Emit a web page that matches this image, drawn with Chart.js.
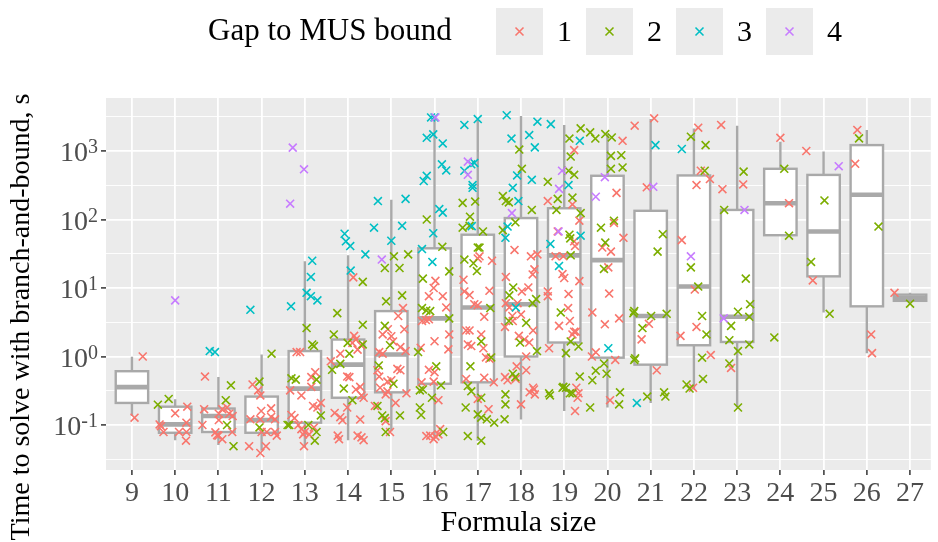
<!DOCTYPE html>
<html>
<head>
<meta charset="utf-8">
<script src="https://cdn.jsdelivr.net/npm/chart.js@4.4.1/dist/chart.umd.min.js"></script>
<style>
  html, body { margin: 0; padding: 0; background: #ffffff; }
  #chart { display: block; }
</style>
</head>
<body>
<canvas id="chart" width="938" height="542"></canvas>
<script>
// Formula sizes (x categories) and box statistics, seconds
const sizes       = [9, 10, 11, 12, 13, 14, 15, 16, 17, 18, 19, 20, 21, 22, 23, 24, 25, 26, 27];
const whiskerLow  = [0.135, 0.06, 0.051, 0.042, 0.047, 0.06, 0.081, 0.066, 0.059, 0.12, 0.16, 0.18, 0.21, 0.33, 0.18, 59, 4.4, 1.12, 6.4];
const quart1      = [0.21, 0.077, 0.079, 0.077, 0.108, 0.25, 0.3, 0.4, 0.42, 1.0, 1.6, 0.96, 0.76, 1.46, 1.63, 59, 14.8, 5.4, 6.5];
const medians     = [0.357, 0.102, 0.135, 0.118, 0.34, 0.76, 1.07, 3.6, 5.2, 5.8, 30, 25.5, 3.9, 10.5, 3.8, 173, 67, 230, 7.2];
const quart3      = [0.61, 0.185, 0.174, 0.26, 1.2, 1.77, 4.6, 38, 60, 105, 146, 435, 134, 440, 138, 550, 448, 1220, 8.0];
const whiskerHigh = [0.99, 0.237, 0.5, 1.07, 24.6, 30, 195, 3160, 2830, 3250, 2400, 1810, 2930, 2140, 2340, 1370, 980, 2030, 8.5];

// jittered runs: [formula size + jitter, seconds], one list per gap
const gap1 = [
  [9.25,1.0],[9.06,0.128],
  [10.0,0.148],[10.28,0.185],[9.64,0.102],[9.67,0.096],[9.73,0.079],[10.09,0.079],[10.26,0.108],[10.26,0.079],[10.25,0.059],
  [10.69,0.51],[10.67,0.17],[11.09,0.17],[11.2,0.18],[11.01,0.146],[11.25,0.146],[11.33,0.135],[10.63,0.1],[11.01,0.118],[10.93,0.078],[10.97,0.071],[11.09,0.062],[11.32,0.079],[11.0,0.07],
  [11.79,0.39],[11.92,0.32],[11.97,0.27],[11.99,0.16],[12.22,0.175],[11.74,0.121],[11.97,0.121],[12.22,0.131],[12.31,0.121],[12.0,0.079],[12.12,0.079],[12.31,0.079],[12.35,0.07],[11.71,0.049],[11.97,0.039],[12.1,0.049],
  [12.81,1.16],[12.89,1.16],[13.15,0.5],[13.24,0.59],[12.66,0.32],[12.92,0.27],[13.15,0.36],[13.37,0.21],[13.19,0.19],[13.29,0.18],[12.69,0.14],[12.76,0.126],[12.85,0.1],[12.92,0.087],[13.0,0.079],[12.96,0.073],[13.21,0.092],[13.1,0.073],[12.98,0.049],
  [14.12,14.3],[14.14,2.0],[14.18,1.77],[14.1,1.58],[13.82,1.1],[14.22,1.26],[14.3,1.46],[13.6,0.85],[13.98,0.51],[14.03,0.5],[14.18,0.33],[14.28,0.36],[14.31,0.27],[14.36,0.25],[13.69,0.15],[13.82,0.13],[13.87,0.117],[13.98,0.18],[14.28,0.12],[13.76,0.07],[13.79,0.062],[14.22,0.07],[14.31,0.066],[14.36,0.06],
  [15.27,5.1],[15.16,3.9],[15.3,2.5],[14.8,2.1],[14.92,2.5],[15.0,1.98],[15.04,1.66],[15.21,1.37],[15.33,1.2],[14.72,1.16],[14.8,1.1],[14.68,0.63],[14.72,0.51],[15.14,0.66],[15.21,0.63],[15.0,0.45],[14.91,0.43],[14.74,0.35],[14.91,0.31],[14.87,0.28],[15.35,0.29],[15.1,0.21],[14.62,0.19],[14.87,0.114],[14.97,0.079],
  [16.02,12.7],[15.98,10],[15.87,7.6],[16.19,7.6],[16.27,5.2],[15.71,3.3],[15.8,3.4],[15.87,3.5],[16.34,2.1],[16.0,1.67],[15.68,1.34],[16.32,1.27],[15.87,0.64],[16.0,0.59],[15.7,0.42],[15.98,0.43],[16.09,0.23],[15.81,0.069],[15.9,0.07],[16.02,0.068],[16.09,0.073],[16.13,0.087],[15.98,0.062],
  [17.04,29],[17.0,27],[17.33,25],[16.67,13.2],[16.81,7.9],[16.69,8.9],[17.27,9.1],[16.92,5.8],[17.0,5.6],[17.15,3.8],[16.73,2.4],[16.81,2.4],[17.08,2.1],[16.77,1.5],[16.85,1.42],[17.13,1.32],[17.19,0.97],[17.27,0.93],[16.73,0.47],[17.15,0.49],[17.37,0.42],[17.0,0.24],[17.25,0.17],
  [17.85,36],[18.23,29],[18.38,31],[17.65,14.5],[18.27,15.8],[18.31,18.7],[18.17,10.2],[18.02,8.9],[17.65,6.0],[17.73,5.2],[17.92,6.0],[17.8,3.9],[17.81,3.3],[18.0,4.1],[17.63,2.7],[18.28,2.4],[17.95,2.0],[18.08,1.77],[18.19,1.6],[18.12,1.0],[17.9,0.72],[18.12,0.63],[17.63,0.5],[17.69,0.45],[17.88,0.47],[18.0,0.2],[18.28,0.35],[18.2,0.3],[18.3,0.33],[18.32,0.28],
  [19.23,1030],[18.62,186],[19.19,166],[19.35,96],[18.85,67],[19.23,48],[19.25,41],[18.8,29],[18.98,29],[18.96,16],[19.0,14],[19.35,12.6],[18.62,8.9],[18.62,7.6],[19.1,8.2],[19.09,5.1],[19.13,3.3],[18.88,2.8],[19.23,2.3],[19.19,2.1],[19.27,2.3],[18.65,1.32],[19.28,0.35],[19.33,0.29],[19.31,0.25],[19.25,0.16],
  [20.35,1410],[20.63,2340],[20.21,245],[20.15,89],[20.37,54],[19.88,39],[20.08,34],[20.02,20],[20.04,8.3],[19.65,4.4],[20.27,3.6],[19.94,2.95],[19.73,1.15],[19.64,1.0],[20.18,0.89],[20.06,0.23],
  [21.08,3000],[20.91,295],[20.96,3.0],[20.79,1.78],[21.14,0.63],
  [22.1,2190],[22.63,2400],[22.16,515],[22.37,390],[22.06,318],[22.66,277],[21.72,50],[22.02,9.5],[22.06,2.7],[21.69,2.0],[22.39,1.05],[21.98,0.35],
  [23.14,325],[22.86,0.68],
  [24.0,1560],[24.2,173],
  [24.6,1000],[24.75,12.9],
  [25.78,2030],[25.73,650],[26.1,2.1],[26.12,1.12],
  [26.64,8.5]
];
const gap2 = [
  [9.6,0.198],[9.85,0.24],
  [11.29,0.38],[11.17,0.23],[11.2,0.1],[11.35,0.049],
  [12.23,1.1],[11.95,0.43],[11.95,0.092],[12.6,0.1],
  [13.04,2.6],[13.17,1.5],[13.21,1.42],[12.69,0.48],[12.79,0.46],[13.27,0.46],[13.37,0.138],[12.64,0.1],[13.27,0.079],[13.23,0.059],[13.08,0.1],
  [14.34,12.3],[13.75,4.3],[13.67,2.1],[14.34,2.9],[13.99,1.58],[14.03,1.1],[14.34,1.5],[13.63,0.64],[13.82,0.78],[13.9,0.34],[14.1,0.23],
  [15.06,29],[15.39,31],[14.85,19.6],[15.19,19.6],[15.25,7.8],[14.88,6.4],[14.85,2.8],[14.97,1.46],[14.71,0.74],[15.05,0.4],[14.68,0.19],[14.79,0.138],[14.85,0.126],[15.2,0.138],[14.87,0.079],
  [15.82,100],[16.18,40],[16.34,17.5],[15.73,13.7],[15.71,5.1],[15.81,4.7],[15.9,4.6],[16.34,3.6],[15.62,1.16],[16.04,0.72],[16.15,0.38],[15.66,0.32],[15.73,0.33],[15.94,0.25],[15.66,0.18],[15.69,0.14],[16.2,0.079],
  [16.65,175],[16.94,183],[16.82,110],[16.65,76],[16.81,81],[17.12,67],[17.0,39],[17.04,39],[16.69,26],[16.9,23],[16.98,17.7],[17.29,5.1],[17.08,1.66],[17.31,0.97],[16.83,0.72],[16.77,0.37],[16.85,0.31],[17.08,0.25],[16.72,0.18],[17.0,0.143],[17.08,0.128],[17.21,0.121],[17.38,0.108],[16.77,0.069],[17.08,0.059],
  [17.96,1050],[18.02,550],[18.62,355],[17.58,220],[17.65,186],[17.72,178],[17.87,91],[18.25,138],[17.58,70],[17.82,10.2],[17.73,7.8],[18.35,6.9],[18.27,6.0],[17.72,3.3],[18.12,3.1],[17.98,1.6],[18.37,1.2],[17.81,0.56],[17.87,0.5],[17.64,0.28],[17.64,0.2],[17.62,0.121],
  [19.38,2140],[19.12,1520],[19.15,830],[19.6,1870],[19.72,1520],[19.1,515],[19.23,450],[18.85,200],[19.19,209],[18.82,138],[19.38,124],[19.12,60],[19.14,53],[19.15,30],[18.92,4.4],[19.15,1.66],[19.33,1.4],[19.04,1.12],[18.98,0.36],[19.04,0.35],[19.13,0.29],[19.19,0.29],[19.36,0.51],[18.96,0.35],[18.65,0.29],[18.67,0.27],[19.6,0.18],
  [19.95,1770],[20.1,1580],[20.32,870],[20.35,575],[20.08,850],[20.08,550],[20.15,96],[19.85,76],[19.95,46],[19.92,19],[20.62,4.6],[20.62,0.89],[19.92,0.79],[19.98,0.56],[19.73,0.62],[19.65,0.45],[20.29,0.3],[20.27,0.2],
  [21.28,61],[21.16,34],[20.6,4.3],[21.01,3.9],[21.37,4.2],[20.81,2.6],[20.64,0.94],[20.92,0.26],[21.31,0.3],[21.34,0.26],
  [21.93,1620],[22.27,1220],[22.25,515],[21.93,20],[22.1,10.5],[22.19,3.9],[22.29,2.1],[22.19,0.96],[22.21,0.47],[21.83,0.39],[21.9,0.34],
  [23.15,500],[22.7,138],[23.2,13.7],[23.3,5.8],[23.02,4.5],[23.28,3.8],[22.86,2.8],[22.82,1.73],[23.28,1.5],[23.02,1.2],[22.82,0.79],[23.02,0.18],[23.86,1.9],
  [24.09,550],[24.2,58],
  [25.02,190],[24.71,24],[25.14,4.2],
  [25.82,1530],[26.27,79],
  [27.0,5.9]
];
const gap3 = [
  [10.8,1.2],[10.92,1.16],
  [11.74,4.8],
  [13.17,25],[13.14,14.5],[13.04,8.5],[13.14,7.6],[13.29,6.6],[12.68,5.4],
  [13.92,62],[13.95,48],[14.05,41],[14.4,31],[14.06,18],
  [14.69,186],[15.33,200],[14.6,76],[15.25,81],[15.0,49],
  [15.92,3090],[16.0,3090],[15.97,1750],[15.82,1560],[16.19,1290],[16.17,640],[16.27,520],[15.82,435],[15.75,365],[16.11,142],[16.19,126],[15.97,63],[15.71,37],[15.95,24],
  [16.69,2400],[17.0,2930],[16.85,640],[16.92,670],[16.69,515],[16.88,318],[16.88,290],[16.86,80],
  [17.67,3330],[18.38,2680],[18.69,2470],[17.78,1520],[18.19,1710],[18.32,1130],[17.91,440],[18.25,380],[17.81,290],[17.94,186],[17.69,79],[17.64,54],[17.88,5.2],
  [19.36,1410],[19.1,318],[19.38,58],[18.68,44],[18.88,21],
  [20.02,1.32],
  [21.11,1220],[20.68,0.21],
  [21.72,1070]
];
const gap4 = [
  [10.0,6.6],
  [12.72,1120],[12.98,540],[12.66,170],
  [14.78,26],
  [16.02,3090],
  [16.77,700],[16.77,450],
  [17.79,124],
  [18.95,515],[18.88,280],[18.87,67],
  [19.94,415],[19.73,215],
  [21.06,300],
  [21.93,29],
  [23.17,138],[22.69,3.6],
  [25.35,600]
];

const gapLabels = ['1', '2', '3', '4'];
const gapColors = ['#F8766D', '#7CAE00', '#00BFC4', '#C77CFF'];

// log axis: major breaks with exponents, minor breaks halfway (in log space)
const yMajor = [0.1, 1, 10, 100, 1000];
const yExponents = ['-1', '0', '1', '2', '3'];
const yMinor = [0.0316228, 0.316228, 3.16228, 31.6228, 316.228, 3162.28];

const SERIF = "'Liberation Serif', 'DejaVu Serif', serif";
const BOX_GREY = '#A9A9A9';

function isMajor(v) {
    return yMajor.some(m => Math.abs(Math.log10(v) - Math.log10(m)) < 1e-6);
}

const panelPlugin = {
    id: 'panel',
    beforeDraw(chart) {
        const { ctx, chartArea: a } = chart;
        ctx.save();
        ctx.fillStyle = '#ffffff';
        ctx.fillRect(0, 0, chart.width, chart.height);
        ctx.fillStyle = '#EBEBEB';
        ctx.fillRect(a.left, a.top, a.right - a.left, a.bottom - a.top);
        ctx.restore();
    }
};

const boxPlugin = {
    id: 'boxes',
    beforeDatasetsDraw(chart) {
        const { ctx, chartArea: a, scales: { x, y } } = chart;
        ctx.save();
        ctx.beginPath();
        ctx.rect(a.left, a.top, a.right - a.left, a.bottom - a.top);
        ctx.clip();
        ctx.strokeStyle = BOX_GREY;
        sizes.forEach((s, i) => {
            const xc = x.getPixelForValue(s);
            const x0 = x.getPixelForValue(s - 0.375);
            const x1 = x.getPixelForValue(s + 0.375);
            const yLo = y.getPixelForValue(whiskerLow[i]);
            const yQ1 = y.getPixelForValue(quart1[i]);
            const yMed = y.getPixelForValue(medians[i]);
            const yQ3 = y.getPixelForValue(quart3[i]);
            const yHi = y.getPixelForValue(whiskerHigh[i]);

            ctx.lineWidth = 2.4;
            ctx.beginPath();
            ctx.moveTo(xc, yHi);
            ctx.lineTo(xc, yQ3);
            ctx.moveTo(xc, yQ1);
            ctx.lineTo(xc, yLo);
            ctx.stroke();

            ctx.fillStyle = '#ffffff';
            ctx.fillRect(x0, yQ3, x1 - x0, yQ1 - yQ3);
            ctx.strokeRect(x0, yQ3, x1 - x0, yQ1 - yQ3);

            ctx.lineWidth = 4.6;
            ctx.beginPath();
            ctx.moveTo(x0, yMed);
            ctx.lineTo(x1, yMed);
            ctx.stroke();
        });
        ctx.restore();
    }
};

const textPlugin = {
    id: 'texts',
    afterDraw(chart) {
        const { ctx, chartArea: a, scales: { y } } = chart;
        ctx.save();

        // y tick labels as 10 with superscript exponent
        ctx.fillStyle = '#4D4D4D';
        ctx.textBaseline = 'alphabetic';
        yMajor.forEach((v, i) => {
            const py = y.getPixelForValue(v);
            ctx.font = '20px ' + SERIF;
            const supW = ctx.measureText(yExponents[i]).width;
            ctx.font = '28px ' + SERIF;
            const baseW = ctx.measureText('10').width;
            const right = a.left - 8;
            ctx.textAlign = 'left';
            ctx.fillText('10', right - supW - baseW, py + 10);
            ctx.font = '20px ' + SERIF;
            ctx.fillText(yExponents[i], right - supW, py + 2);
        });

        // axis titles
        ctx.fillStyle = '#000000';
        ctx.textAlign = 'center';
        ctx.textBaseline = 'middle';
        ctx.font = '30px ' + SERIF;
        ctx.fillText('Formula size', (a.left + a.right) / 2, 523);

        ctx.save();
        ctx.translate(22, 317);
        ctx.rotate(-Math.PI / 2);
        ctx.font = '28px ' + SERIF;
        ctx.fillText('Time to solve with branch-and-bound, s', 0, 0);
        ctx.restore();

        // legend
        ctx.textAlign = 'left';
        ctx.font = '31px ' + SERIF;
        ctx.fillText('Gap to MUS bound', 208, 32);
        const keyX = [496, 586, 676, 766];
        gapLabels.forEach((lab, i) => {
            const kx = keyX[i];
            ctx.fillStyle = '#EBEBEB';
            ctx.fillRect(kx, 8, 47, 47);
            const cx = kx + 23.5, cy = 31.5, h = 4;
            ctx.strokeStyle = gapColors[i];
            ctx.lineWidth = 1.6;
            ctx.beginPath();
            ctx.moveTo(cx - h, cy - h);
            ctx.lineTo(cx + h, cy + h);
            ctx.moveTo(cx - h, cy + h);
            ctx.lineTo(cx + h, cy - h);
            ctx.stroke();
            ctx.fillStyle = '#000000';
            ctx.font = '30px ' + SERIF;
            ctx.fillText(lab, kx + 61, 33);
        });
        ctx.restore();
    }
};

const gapData = [gap1, gap2, gap3, gap4];

new Chart(document.getElementById('chart'), {
    type: 'scatter',
    data: {
        datasets: gapData.map((pts, i) => ({
            label: gapLabels[i],
            data: pts.map(p => ({ x: p[0], y: p[1] })),
            pointStyle: 'crossRot',
            pointRadius: 5.6,
            pointHoverRadius: 5.6,
            borderWidth: 1.6,
            borderColor: gapColors[i],
            backgroundColor: gapColors[i],
            order: 4 - i
        }))
    },
    options: {
        responsive: false,
        animation: false,
        devicePixelRatio: 1,
        events: [],
        layout: { padding: { top: 98, left: 0, right: 0, bottom: 0 } },
        plugins: {
            legend: { display: false },
            tooltip: { enabled: false }
        },
        scales: {
            x: {
                type: 'linear',
                min: 8.4,
                max: 27.48,
                afterBuildTicks: scale => { scale.ticks = sizes.map(v => ({ value: v })); },
                afterFit: scale => { scale.height = 72; },
                ticks: {
                    autoSkip: false,
                    maxRotation: 0,
                    padding: 2,
                    color: '#4D4D4D',
                    font: { family: SERIF, size: 28 },
                    callback: v => String(v)
                },
                grid: {
                    color: '#ffffff',
                    lineWidth: 1.8,
                    tickLength: 5,
                    tickColor: '#333333',
                    tickWidth: 1.5
                },
                border: { display: false }
            },
            y: {
                type: 'logarithmic',
                min: 0.02203,
                max: 5943,
                afterBuildTicks: scale => {
                    scale.ticks = yMinor.concat(yMajor).sort((p, q) => p - q).map(v => ({ value: v, major: isMajor(v) }));
                },
                afterFit: scale => { scale.width = 106; },
                ticks: {
                    autoSkip: false,
                    callback: () => ''
                },
                grid: {
                    color: '#ffffff',
                    lineWidth: ctx => (ctx.tick && isMajor(ctx.tick.value)) ? 1.8 : 0.9,
                    tickLength: 5,
                    tickColor: ctx => (ctx.tick && isMajor(ctx.tick.value)) ? '#333333' : 'rgba(0,0,0,0)',
                    tickWidth: 1.5
                },
                border: { display: false }
            }
        }
    },
    plugins: [panelPlugin, boxPlugin, textPlugin]
});
</script>
</body>
</html>
